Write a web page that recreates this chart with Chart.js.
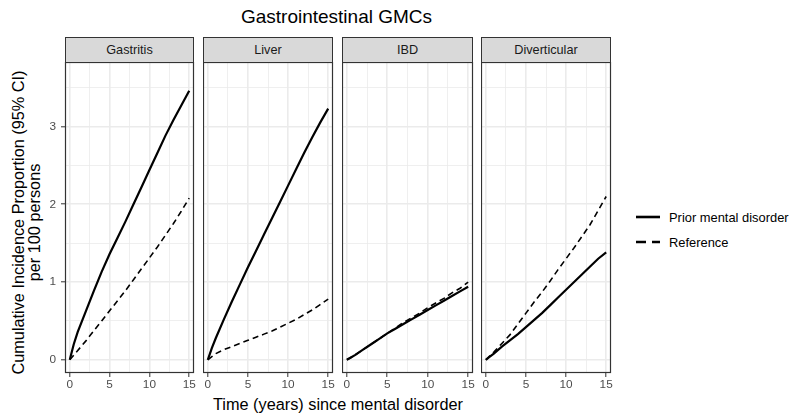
<!DOCTYPE html>
<html>
<head>
<meta charset="utf-8">
<script src="https://cdn.jsdelivr.net/npm/chart.js@4.4.1/dist/chart.umd.min.js"></script>
<style>
  body { margin: 0; background: #fff; font-family: "Liberation Sans", Arial, sans-serif; }
  #wrap { position: relative; width: 791px; height: 414px; overflow: hidden; }
  #wrap canvas { position: absolute; }
  .strip { position: absolute; top: 37px; height: 26px; box-sizing: border-box; background: #d9d9d9;
           border: 1px solid #333; font-size: 12.7px; color: #1a1a1a; text-align: center; line-height: 24px; }
  .title { position: absolute; left: 0; width: 673px; top: 6px; text-align: center; font-size: 19px; line-height: 22px; color: #000; }
  .xtitle { position: absolute; left: 0; width: 676px; top: 395px; text-align: center; font-size: 16.3px; line-height: 19px; color: #000; }
  .ytitle { position: absolute; left: -134px; top: 206.5px; width: 320px; height: 31px; line-height: 15.5px;
            text-align: center; font-size: 16.3px; color: #000; transform: rotate(-90deg); white-space: nowrap; }
  .leg { position: absolute; left: 636px; font-size: 12.9px; color: #000; display: flex; align-items: center; height: 16px; white-space: nowrap; }
  .leg svg { margin-right: 9px; }
</style>
</head>
<body>
<div id="wrap">
  <div class="title">Gastrointestinal GMCs</div>
  <div class="ytitle">Cumulative Incidence Proportion (95% CI)<br>per 100 persons</div>
  <div class="xtitle">Time (years) since mental disorder</div>
  <div class="leg" style="top:209px"><svg width="24" height="6"><line x1="0" y1="3" x2="24" y2="3" stroke="#000" stroke-width="2.6"/></svg>Prior mental disorder</div>
  <div class="leg" style="top:234px"><svg width="24" height="6"><line x1="0" y1="3" x2="24" y2="3" stroke="#000" stroke-width="2.6" stroke-dasharray="10 6"/></svg>Reference</div>
</div>
<script>
const panelNames = ['Gastritis', 'Liver', 'IBD', 'Diverticular'];
const seriesNames = ['Prior mental disorder', 'Reference'];

const years = [0, 0.5, 1, 2, 3, 4, 5, 6, 7, 8, 9, 10, 11, 12, 13, 14, 15];

const gastritisPrior = [0, 0.2, 0.36, 0.62, 0.88, 1.13, 1.36, 1.57, 1.78, 2.0, 2.22, 2.44, 2.66, 2.88, 3.08, 3.27, 3.46];
const gastritisRef   = [0, 0.06, 0.12, 0.24, 0.37, 0.5, 0.63, 0.76, 0.89, 1.03, 1.17, 1.31, 1.45, 1.6, 1.75, 1.91, 2.08];

const liverPrior = [0, 0.15, 0.28, 0.52, 0.75, 0.97, 1.19, 1.4, 1.61, 1.82, 2.03, 2.24, 2.45, 2.66, 2.86, 3.05, 3.23];
const liverRef   = [0, 0.04, 0.08, 0.13, 0.17, 0.21, 0.25, 0.29, 0.33, 0.37, 0.42, 0.47, 0.52, 0.58, 0.64, 0.71, 0.78];

const ibdPrior = [0, 0.03, 0.06, 0.13, 0.2, 0.27, 0.34, 0.4, 0.46, 0.52, 0.58, 0.64, 0.7, 0.76, 0.82, 0.88, 0.94];
const ibdRef   = [0, 0.03, 0.06, 0.13, 0.2, 0.27, 0.34, 0.41, 0.48, 0.54, 0.6, 0.67, 0.73, 0.79, 0.86, 0.92, 1.0];

const divertPrior = [0, 0.04, 0.08, 0.17, 0.25, 0.33, 0.42, 0.51, 0.6, 0.7, 0.8, 0.9, 1.0, 1.1, 1.2, 1.3, 1.38];
const divertRef   = [0, 0.05, 0.1, 0.21, 0.32, 0.46, 0.6, 0.74, 0.87, 1.01, 1.16, 1.3, 1.44, 1.59, 1.74, 1.92, 2.1];

const priorValues = [gastritisPrior, liverPrior, ibdPrior, divertPrior];
const refValues = [gastritisRef, liverRef, ibdRef, divertRef];

const xTicks = [0, 5, 10, 15];
const xMinor = [2.5, 7.5, 12.5];
const yTicks = [0, 1, 2, 3];
const yMinor = [0.5, 1.5, 2.5, 3.5];

// panel placement (pixels)
const panelX = [65, 203, 342, 481];
const panelW = [129, 130, 131, 130];
const panelTop = 62;
const panelH = 311;
const xAxisH = 24;
const padRight = 8;

const wrap = document.getElementById('wrap');

const panelBorder = {
  id: 'panelBorder',
  afterDraw(chart) {
    const a = chart.chartArea;
    const c = chart.ctx;
    c.save();
    c.strokeStyle = '#333333';
    c.lineWidth = 1.2;
    c.strokeRect(a.left + 0.5, a.top + 0.5, a.right - a.left - 1, a.bottom - a.top - 1);
    c.restore();
  }
};

function toPoints(vals) {
  return years.map((t, k) => ({ x: t, y: vals[k] }));
}

function setTicks(major, minor) {
  return function (scale) {
    scale.ticks = major.concat(minor).sort((a, b) => a - b).map(v => ({ value: v }));
  };
}

function makePanel(i) {
  const first = i === 0;
  const yW = first ? 30 : 0;

  const strip = document.createElement('div');
  strip.className = 'strip';
  strip.style.left = panelX[i] + 'px';
  strip.style.width = panelW[i] + 'px';
  strip.textContent = panelNames[i];
  wrap.appendChild(strip);

  const canvas = document.createElement('canvas');
  canvas.width = yW + panelW[i] + padRight;
  canvas.height = panelH + xAxisH;
  canvas.style.left = (panelX[i] - yW) + 'px';
  canvas.style.top = panelTop + 'px';
  wrap.appendChild(canvas);

  const tickFont = { family: '"Liberation Sans", Arial, sans-serif', size: 11.8 };

  new Chart(canvas.getContext('2d'), {
    type: 'line',
    data: {
      datasets: [
        {
          label: seriesNames[0],
          data: toPoints(priorValues[i]),
          borderColor: '#000',
          borderWidth: 2.2,
          pointRadius: 0,
          tension: 0,
          fill: false
        },
        {
          label: seriesNames[1],
          data: toPoints(refValues[i]),
          borderColor: '#000',
          borderWidth: 1.6,
          borderDash: [6, 4],
          pointRadius: 0,
          tension: 0,
          fill: false
        }
      ]
    },
    plugins: [panelBorder],
    options: {
      responsive: false,
      animation: false,
      events: [],
      layout: { padding: { left: 0, top: 0, bottom: 0, right: padRight } },
      plugins: { legend: { display: false }, tooltip: { enabled: false }, title: { display: false } },
      scales: {
        x: {
          type: 'linear',
          min: -0.6,
          max: 15.6,
          afterBuildTicks: setTicks(xTicks, xMinor),
          afterFit: (s) => { s.height = xAxisH; s.paddingLeft = 0; s.paddingRight = 0; },
          border: { display: false },
          grid: {
            color: '#ebebeb',
            lineWidth: (ctx) => xTicks.includes(ctx.tick.value) ? 1.6 : 0.8,
            drawTicks: true,
            tickLength: 4,
            tickWidth: 1,
            tickColor: (ctx) => xTicks.includes(ctx.tick.value) ? '#333333' : 'rgba(0,0,0,0)'
          },
          ticks: {
            autoSkip: false,
            maxRotation: 0,
            padding: 1,
            color: '#4d4d4d',
            font: tickFont,
            callback: (v) => xTicks.includes(v) ? String(v) : ''
          }
        },
        y: {
          type: 'linear',
          min: -0.17,
          max: 3.83,
          afterBuildTicks: setTicks(yTicks, yMinor),
          afterFit: (s) => { s.width = yW; s.paddingTop = 0; s.paddingBottom = 0; },
          border: { display: false },
          grid: {
            color: '#ebebeb',
            lineWidth: (ctx) => yTicks.includes(ctx.tick.value) ? 1.6 : 0.8,
            drawTicks: first,
            tickLength: 4,
            tickWidth: 1,
            tickColor: (ctx) => yTicks.includes(ctx.tick.value) ? '#333333' : 'rgba(0,0,0,0)'
          },
          ticks: {
            display: first,
            autoSkip: false,
            padding: 5,
            color: '#4d4d4d',
            font: tickFont,
            callback: (v) => yTicks.includes(v) ? String(v) : ''
          }
        }
      }
    }
  });
}

for (let i = 0; i < panelNames.length; i++) {
  makePanel(i);
}
</script>
</body>
</html>
